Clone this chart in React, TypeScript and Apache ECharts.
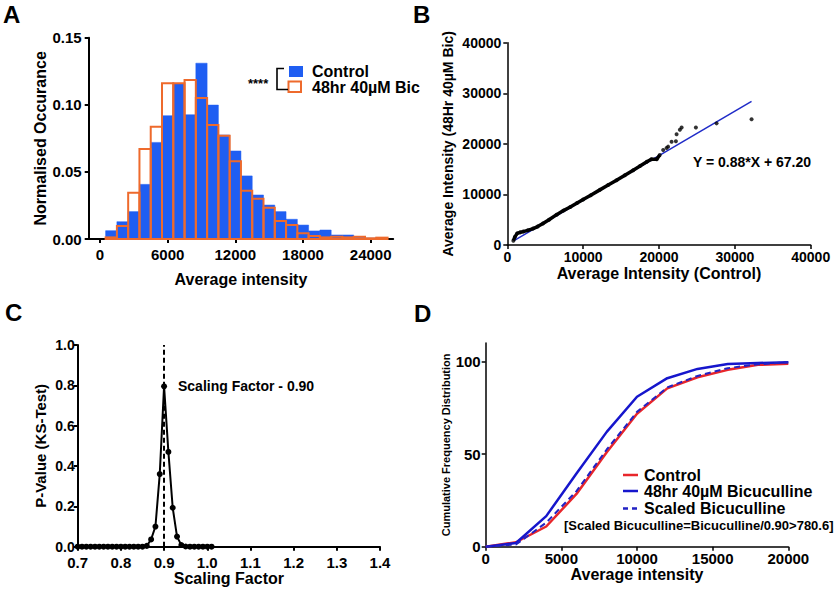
import React, { useEffect, useRef } from "react";
import * as echarts from "echarts";

// ---------- Panel A: histogram ----------
const binCenters = [1000, 2000, 3000, 4000, 5000, 6000, 7000, 8000, 9000, 10000, 11000, 12000, 13000, 14000, 15000, 16000, 17000, 18000, 19000, 20000, 21000, 22000, 23000, 24000, 25000];
const controlFreq = [0.0062, 0.0129, 0.0204, 0.0407, 0.072, 0.0919, 0.1155, 0.0926, 0.131, 0.0998, 0.0775, 0.0656, 0.047, 0.0328, 0.0253, 0.0204, 0.0147, 0.0104, 0.006, 0.0067, 0.003, 0.003, 0.0012, 0.0007, 0.0007];
const bicFreq = [0.0012, 0.0097, 0.0345, 0.067, 0.0837, 0.116, 0.116, 0.1185, 0.105, 0.085, 0.077, 0.058, 0.036, 0.03, 0.0233, 0.0134, 0.0104, 0.0042, 0.0022, 0.0012, 0.0017, 0.0012, 0.0017, 0.0005, 0.001];
const BIN_WIDTH = 1000;
const aXTicks = [0, 6000, 12000, 18000, 24000];

// ---------- Panel B: QQ plot ----------
const bDenseX = [800, 1000, 1300, 1700, 2100, 2700, 3400, 4000, 4700, 5500, 6500, 7400, 8300, 9200, 10000, 11000, 12200, 13300, 14400, 15500, 16600, 17500, 18400, 19000, 19700, 20100];
const bDenseY = [850, 1600, 2300, 2500, 2650, 2900, 3250, 3650, 4250, 5000, 6000, 6800, 7500, 8300, 9000, 9850, 10900, 11850, 12800, 13800, 14800, 15600, 16450, 16950, 16950, 17800];
const bSparseX = [20550, 21000, 21200, 21660, 22230, 22320, 22750, 22980, 24860, 27590, 32200];
const bSparseY = [18800, 19200, 19450, 20400, 20500, 21900, 22800, 23250, 23250, 24050, 24850];
const bFitX = [1000, 32200];
const bFitY = [950, 28400];

// ---------- Panel C: KS p-value vs scaling factor ----------
const cScale = [0.70, 0.71, 0.72, 0.73, 0.74, 0.75, 0.76, 0.77, 0.78, 0.79, 0.80, 0.81, 0.82, 0.83, 0.84, 0.85, 0.86, 0.87, 0.88, 0.89, 0.90, 0.91, 0.92, 0.93, 0.94, 0.95, 0.96, 0.97, 0.98, 0.99, 1.00, 1.01];
const cPValue = [0, 0, 0, 0, 0, 0, 0, 0, 0, 0, 0, 0, 0, 0, 0, 0, 0.004, 0.036, 0.1, 0.36, 0.795, 0.47, 0.193, 0.05, 0.008, 0.001, 0, 0, 0, 0, 0, 0];
const cBest = 0.9;

// ---------- Panel D: cumulative distributions ----------
const dX = [0, 2000, 4000, 6000, 8000, 10000, 12000, 14000, 16000, 18000, 20000];
const dControl = [0, 2.4, 10.9, 28.5, 51, 71.8, 85.5, 91.5, 95.5, 98.2, 98.8];
const dBic = [0, 2.0, 16.5, 39.5, 62, 81, 91, 96, 98.7, 99.2, 99.6];
const dScaled = [0, 1.2, 13, 30, 52.5, 72.8, 86, 92.2, 96.4, 98.5, 99.6];
const dYTicks = [0, 50, 100];

const FONT = "'Liberation Sans', Arial, sans-serif";
const BLUE = "#1F5EF2";
const ORANGE = "#EE6A2C";
const BLACK = "#000";
const plain = (v: number) => String(v);

function axisStyle(lw: number, fs: number, margin: number) {
  return {
    axisLine: { show: true, onZero: false, lineStyle: { color: BLACK, width: lw } },
    axisTick: { show: true, length: 4, lineStyle: { color: BLACK, width: lw } },
    splitLine: { show: false },
    axisLabel: { fontFamily: FONT, fontWeight: "bold", fontSize: fs, color: BLACK, margin, formatter: plain },
  };
}

function nameStyle(fs: number) {
  return { fontFamily: FONT, fontWeight: "bold", fontSize: fs, color: BLACK };
}

function txt(text: string, x: number, y: number, fs: number, align = "left") {
  return {
    type: "text",
    x,
    y,
    style: { text, fontFamily: FONT, fontWeight: "bold", fontSize: fs, fill: BLACK, align, verticalAlign: "middle" },
  };
}

export default function App() {
  const ref = useRef<HTMLDivElement>(null);
  useEffect(() => {
    if (!ref.current) return;
    const chart = echarts.init(ref.current, undefined, { renderer: "svg" });

    const histA = binCenters.map((c, i) => [c, controlFreq[i]]);
    const histB = binCenters.map((c, i) => [c, bicFreq[i]]);

    const barRender = (fill: string, stroke: string, lw: number) => (params: any, api: any) => {
      const c = api.value(0);
      const v = api.value(1);
      const tl = api.coord([c - BIN_WIDTH / 2, v]);
      const br = api.coord([c + BIN_WIDTH / 2, 0]);
      return {
        type: "rect",
        shape: { x: tl[0], y: tl[1], width: br[0] - tl[0], height: br[1] - tl[1] },
        style: { fill, stroke, lineWidth: lw },
      };
    };

    const a = axisStyle(2, 15, 8);
    const b = axisStyle(1.5, 14, 5);
    const c = axisStyle(2, 15, 8);
    const d = axisStyle(1.5, 15, 4);

    const option: any = {
      animation: false,
      backgroundColor: "#fff",
      grid: [
        { left: 88.7, top: 37.7, width: 304.5, height: 201.3 },
        { left: 507.3, top: 42.7, width: 303.4, height: 202.3 },
        { left: 77.7, top: 345, width: 302.3, height: 201.7 },
        { left: 485.7, top: 343, width: 302.6, height: 203.7 },
      ],
      xAxis: [
        {
          gridIndex: 0, type: "value", min: -1000, max: 26000,
          ...a,
          axisLabel: { ...a.axisLabel, customValues: aXTicks },
          axisTick: { ...a.axisTick, customValues: aXTicks },
          name: "Average intensity", nameLocation: "middle", nameGap: 32, nameTextStyle: nameStyle(16),
        },
        {
          gridIndex: 1, type: "value", min: 0, max: 40000, interval: 10000,
          ...b,
          name: "Average Intensity (Control)", nameLocation: "middle", nameGap: 20, nameTextStyle: nameStyle(16),
        },
        {
          gridIndex: 2, type: "value", min: 0.7, max: 1.4, interval: 0.1,
          ...c,
          axisLabel: { ...c.axisLabel, formatter: (v: number) => v.toFixed(1) },
          name: "Scaling Factor", nameLocation: "middle", nameGap: 19, nameTextStyle: nameStyle(16),
        },
        {
          gridIndex: 3, type: "value", min: 0, max: 20000, interval: 5000,
          ...d,
          name: "Average intensity", nameLocation: "middle", nameGap: 17, nameTextStyle: nameStyle(16),
        },
      ],
      yAxis: [
        {
          gridIndex: 0, type: "value", min: 0, max: 0.15, interval: 0.05,
          ...a,
          axisLabel: { ...a.axisLabel, margin: 7, formatter: (v: number) => v.toFixed(2) },
          name: "Normalised Occurance", nameLocation: "middle", nameGap: 40, nameTextStyle: nameStyle(16),
        },
        {
          gridIndex: 1, type: "value", min: 0, max: 40000, interval: 10000,
          ...b,
          axisLabel: { ...b.axisLabel, margin: 6 },
          name: "Average Intensity (48Hr 40\u00B5M Bic)", nameLocation: "middle", nameGap: 52, nameTextStyle: nameStyle(14),
        },
        {
          gridIndex: 2, type: "value", min: 0, max: 1.0, interval: 0.2,
          ...c,
          axisLabel: { ...c.axisLabel, fontSize: 14, margin: 3, formatter: (v: number) => v.toFixed(1) },
          name: "P-Value (KS-Test)", nameLocation: "middle", nameGap: 30, nameTextStyle: nameStyle(15),
        },
        {
          gridIndex: 3, type: "value", min: 0, max: 110,
          ...d,
          axisLabel: { ...d.axisLabel, margin: 5, customValues: dYTicks },
          axisTick: { ...d.axisTick, customValues: dYTicks },
          name: "Cumulative Frequency Distribution", nameLocation: "middle", nameGap: 32, nameTextStyle: nameStyle(11),
        },
      ],
      series: [
        // Panel A
        {
          type: "custom", xAxisIndex: 0, yAxisIndex: 0, data: histA,
          renderItem: barRender(BLUE, BLUE, 0.5), z: 2,
        },
        {
          type: "custom", xAxisIndex: 0, yAxisIndex: 0, data: histB,
          renderItem: barRender("none", ORANGE, 2), z: 3,
        },
        // Panel B
        {
          type: "line", xAxisIndex: 1, yAxisIndex: 1,
          data: bFitX.map((x, i) => [x, bFitY[i]]),
          showSymbol: false, lineStyle: { color: "#1F2BC8", width: 1.5 }, z: 2,
        },
        {
          type: "line", xAxisIndex: 1, yAxisIndex: 1,
          data: bDenseX.map((x, i) => [x, bDenseY[i]]),
          showSymbol: false, lineStyle: { color: BLACK, width: 3.5 }, z: 3,
        },
        {
          type: "scatter", xAxisIndex: 1, yAxisIndex: 1,
          data: bDenseX.map((x, i) => [x, bDenseY[i]]).concat(bSparseX.map((x, i) => [x, bSparseY[i]])),
          symbolSize: 4, itemStyle: { color: BLACK }, z: 4,
        },
        // Panel C
        {
          type: "line", xAxisIndex: 2, yAxisIndex: 2,
          data: cScale.map((x, i) => [x, cPValue[i]]),
          symbol: "circle", symbolSize: 6, showSymbol: true,
          lineStyle: { color: BLACK, width: 2 }, itemStyle: { color: BLACK },
          markLine: {
            silent: true, symbol: "none", label: { show: false },
            lineStyle: { color: BLACK, type: [5, 3], width: 2 },
            data: [{ xAxis: cBest }],
          },
        },
        // Panel D
        {
          type: "line", xAxisIndex: 3, yAxisIndex: 3, name: "Control",
          data: dX.map((x, i) => [x, dControl[i]]),
          showSymbol: false, lineStyle: { color: "#E8262B", width: 2.5 }, z: 2,
        },
        {
          type: "line", xAxisIndex: 3, yAxisIndex: 3, name: "48hr 40\u00B5M Bicuculline",
          data: dX.map((x, i) => [x, dBic[i]]),
          showSymbol: false, lineStyle: { color: "#1616CC", width: 2.5 }, z: 3,
        },
        {
          type: "line", xAxisIndex: 3, yAxisIndex: 3, name: "Scaled Bicuculline",
          data: dX.map((x, i) => [x, dScaled[i]]),
          showSymbol: false, lineStyle: { color: "#2222C4", width: 2, type: [6, 4] }, z: 4,
        },
      ],
      graphic: [
        // panel letters
        txt("A", 3, 14, 24),
        txt("B", 413, 14, 24),
        txt("C", 5, 312, 24),
        txt("D", 414, 313, 24),
        // legend A
        { type: "rect", shape: { x: 289, y: 66, width: 14, height: 11 }, style: { fill: BLUE } },
        { type: "rect", shape: { x: 288.5, y: 81.5, width: 12.5, height: 10.5 }, style: { fill: "#fff", stroke: ORANGE, lineWidth: 2 } },
        { type: "polyline", shape: { points: [[284, 68.5], [277, 68.5], [277, 89.5], [288, 89.5]] }, style: { stroke: BLACK, lineWidth: 1.6, fill: "none" } },
        txt("****", 248, 83, 13),
        txt("Control", 312, 71.5, 16),
        txt("48hr 40\u00B5M Bic", 312, 87.5, 16),
        // B equation
        txt("Y = 0.88*X + 67.20", 693, 162, 14),
        // C annotation
        txt("Scaling Factor - 0.90", 178, 386, 14),
        // legend D
        { type: "line", shape: { x1: 623, y1: 475, x2: 638, y2: 475 }, style: { stroke: "#E8262B", lineWidth: 2.5 } },
        txt("Control", 644, 475, 16),
        { type: "line", shape: { x1: 623, y1: 491, x2: 638, y2: 491 }, style: { stroke: "#1616CC", lineWidth: 2.5 } },
        txt("48hr 40\u00B5M Bicuculline", 644, 491, 16),
        { type: "line", shape: { x1: 623, y1: 508.5, x2: 638, y2: 508.5 }, style: { stroke: "#2222C4", lineWidth: 2.5, lineDash: [5, 4] } },
        txt("Scaled Bicuculline", 644, 508.5, 16),
        txt("[Scaled Bicuculline=Bicuculline/0.90>780.6]", 564, 525, 13),
      ],
    };

    chart.setOption(option);
    return () => chart.dispose();
  }, []);

  return <div ref={ref} style={{ position: "fixed", left: 0, top: 0, width: 837, height: 592 }} />;
}
